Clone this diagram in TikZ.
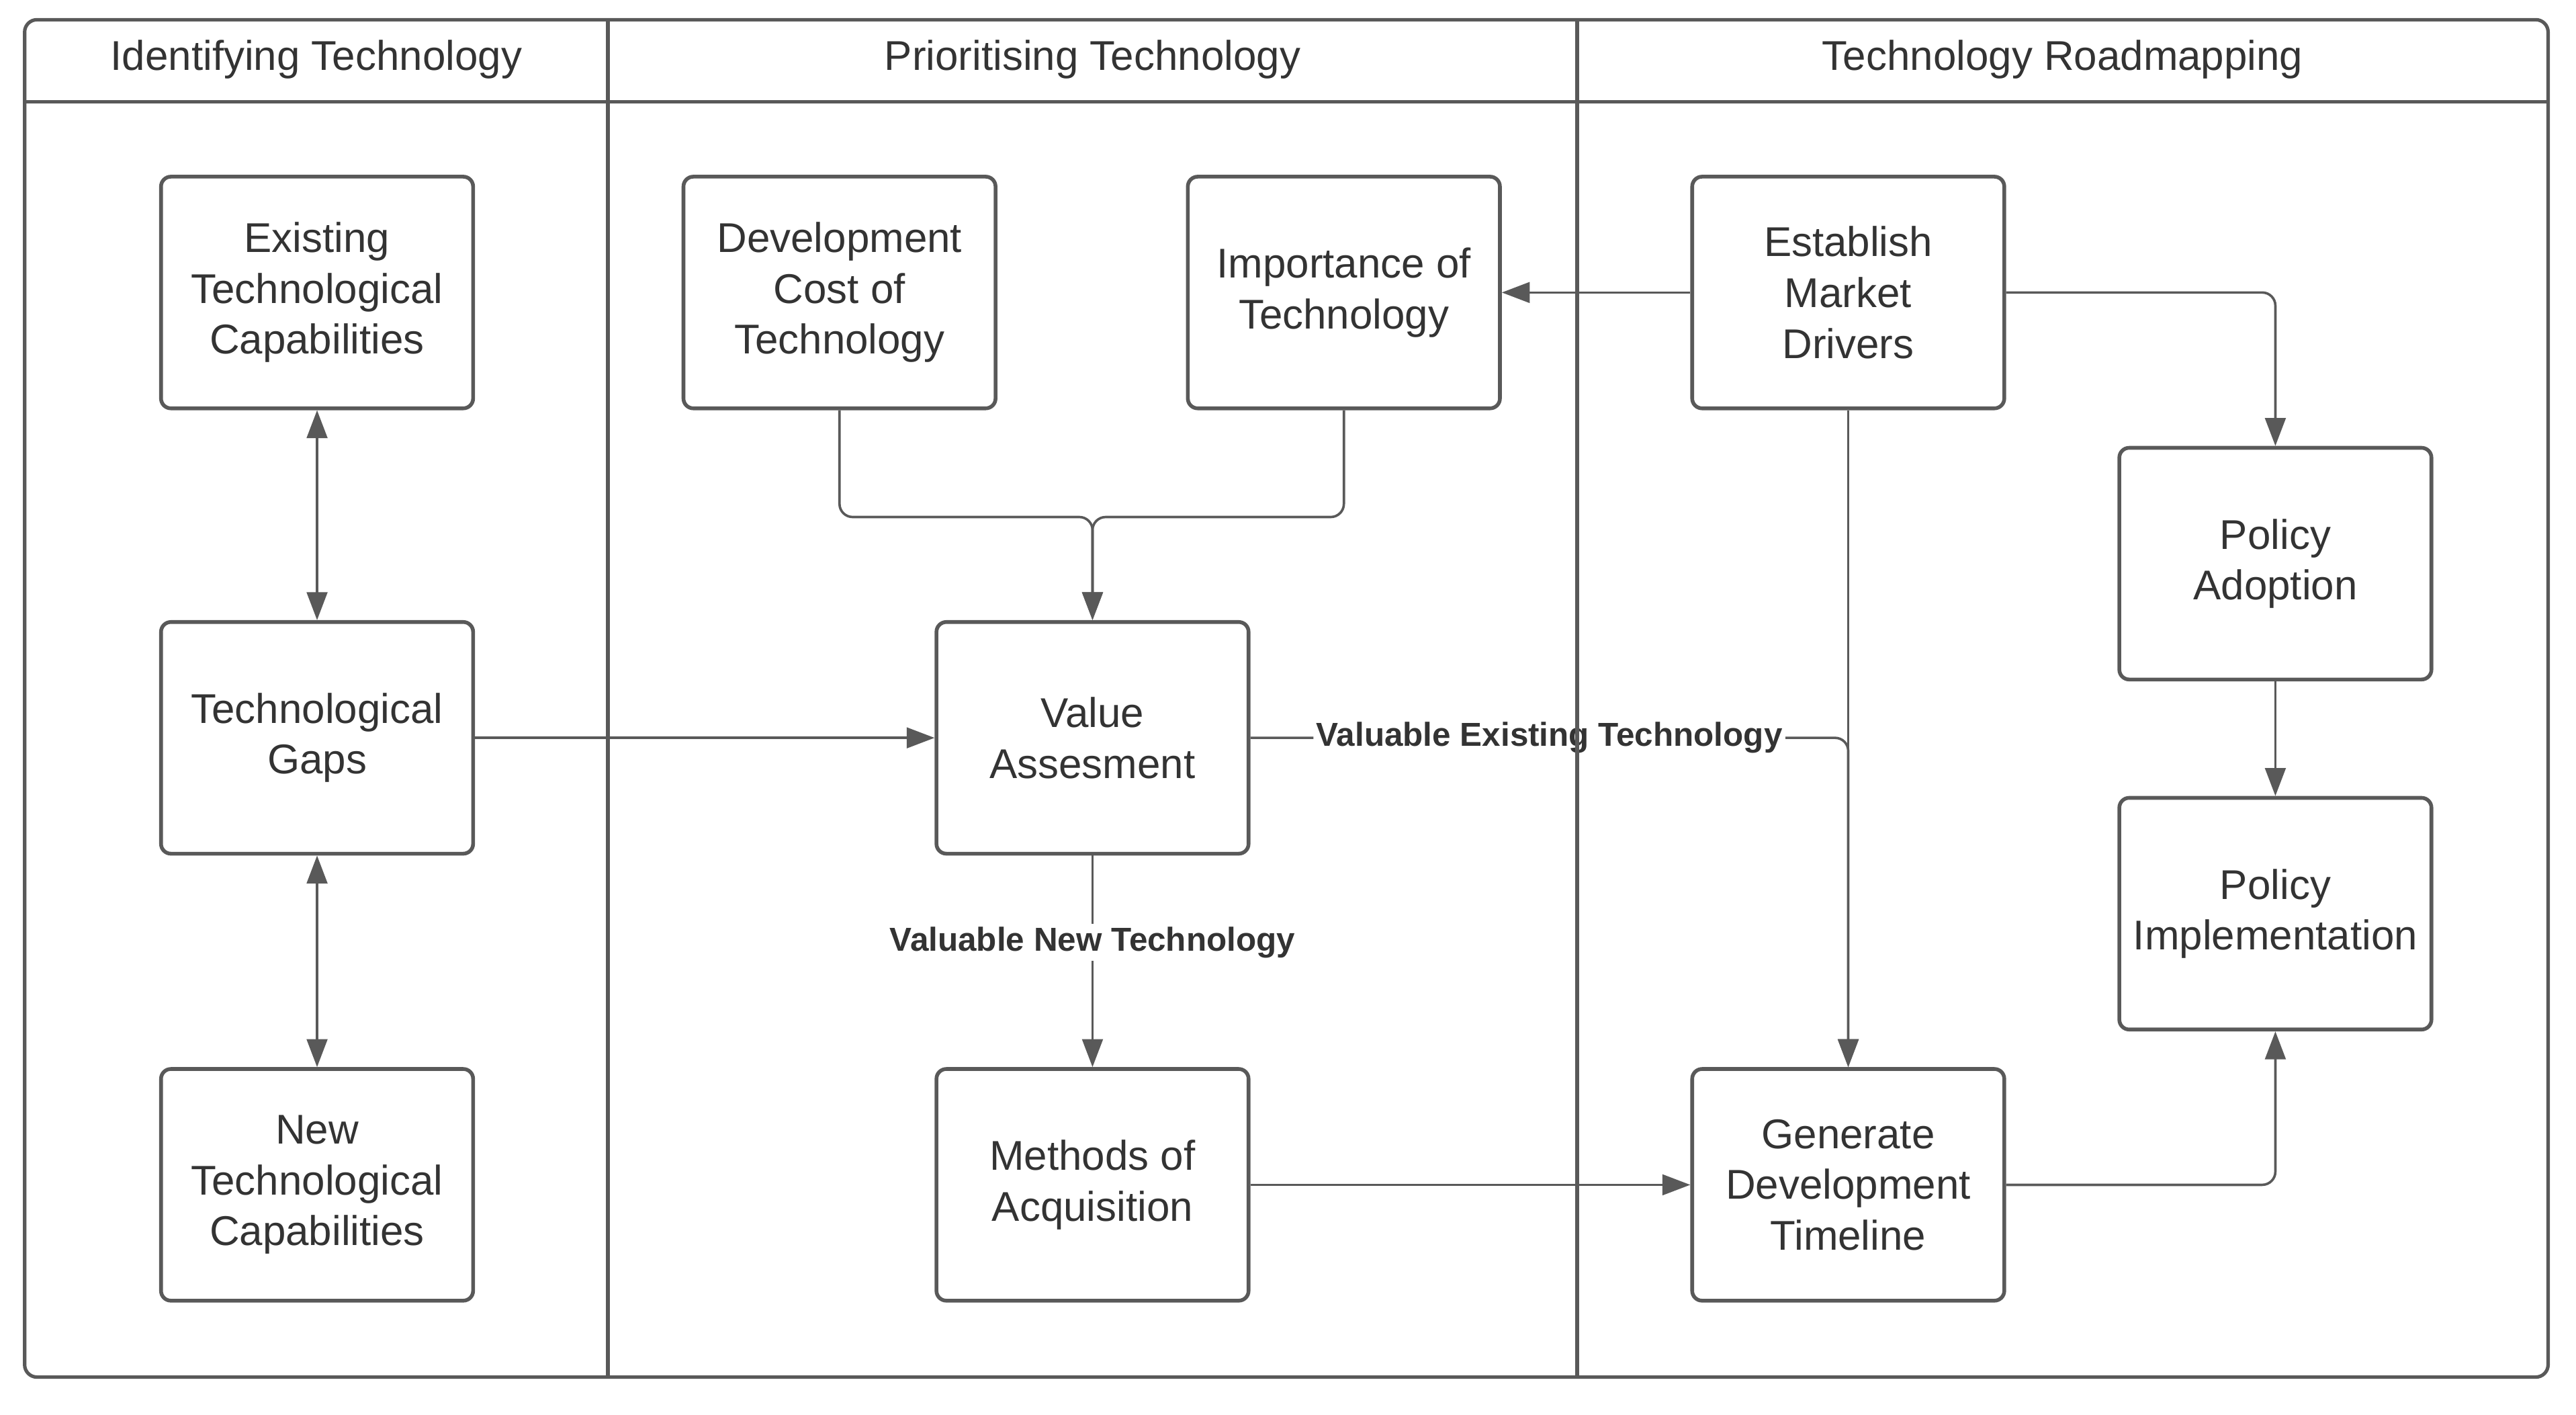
\documentclass[tikz,border=0pt]{standalone}
\usepackage{fontspec}
\setmainfont{Liberation Sans}
\usepackage{xcolor}
\usetikzlibrary{arrows.meta}
\definecolor{linegray}{HTML}{595959}
\definecolor{textgray}{HTML}{333333}

\begin{document}
\begin{tikzpicture}[x=0.02cm, y=-0.02cm,
		line/.style={draw=linegray, line width=0.85pt, rounded corners=0.16cm},
		arr/.style={line, -{Triangle[length=0.34cm, width=0.25cm]}},
		darr/.style={line, {Triangle[length=0.34cm, width=0.25cm]}-{Triangle[length=0.34cm, width=0.25cm]}},
		stage/.style={draw=linegray, line width=1.3pt, rounded corners=0.12cm, minimum width=3.8cm, minimum height=2.82cm, inner sep=0pt, align=center, text=textgray, font=\fontsize{14.4}{17.6}\selectfont},
		lane/.style={text=textgray, font=\fontsize{14.4}{17.6}\selectfont},
		flowlabel/.style={fill=white, text=textgray, inner sep=1pt, font=\bfseries\fontsize{11.5}{13}\selectfont}]
			\def \top{12};
			\def \bot{838};
			\def \hd{62};
			\useasboundingbox (0, 0) rectangle (1568, 861);
			\node[lane] (l1) at (192.5, 36) {Identifying Technology};
			\node[lane] (l2) at (665, 36) {Prioritising Technology};
			\node[lane] (l3) at (1255.5, 36) {Technology Roadmapping};
			\node[stage] (etc) at (193, 178) {Existing\\Technological\\Capabilities};
			\node[stage] (tg) at (193, 449) {Technological\\Gaps};
			\node[stage] (ntc) at (193, 721) {New\\Technological\\Capabilities};
			\node[stage] (dct) at (511, 178) {Development\\Cost of\\Technology};
			\node[stage] (imp) at (818, 178) {Importance of\\Technology};
			\node[stage] (va) at (665, 449) {Value\\Assesment};
			\node[stage] (moa) at (665, 721) {Methods of\\Acquisition};
			\node[stage] (emd) at (1125, 178) {Establish\\Market\\Drivers};
			\node[stage] (pad) at (1385, 343) {Policy\\Adoption};
			\node[stage] (pim) at (1385, 556) {Policy\\Implementation};
			\node[stage] (gdt) at (1125, 721) {Generate\\Development\\Timeline};
			\draw[darr] (etc.south) -- (tg.north);
			\draw[darr] (tg.south) -- (ntc.north);
			\draw[arr] (tg.east) -- (va.west);
			\draw[arr] (dct.south) -- ++(0, 65) -| (va.north);
			\draw[arr] (imp.south) -- ++(0, 65) -| (va.north);
			\draw[arr] (va.south) -- node[flowlabel, pos=0.41] (vnt) {Valuable New Technology} (moa.north);
			\draw[arr] (va.east) -- node[flowlabel, midway] (vet) {Valuable Existing Technology} (va.east -| gdt.north) -- (gdt.north);
			\draw[arr] (emd.south) -- (gdt.north);
			\draw[arr] (emd.west) -- (imp.east);
			\draw[arr] (emd.east) -| (pad.north);
			\draw[arr] (pad.south) -- (pim.north);
			\draw[arr] (moa.east) -- (gdt.west);
			\draw[arr] (gdt.east) -| (pim.south);
			\draw[draw=linegray, line width=1.2pt, rounded corners=0.15cm] (15, \top) rectangle (1551, \bot);
			\draw[draw=linegray, line width=1.2pt] (15, \hd) -- (1551, \hd);
			\draw[draw=linegray, line width=1.2pt] (370, \top) -- (370, \bot);
			\draw[draw=linegray, line width=1.2pt] (960, \top) -- (960, \bot);
		\end{tikzpicture}
\end{document}
